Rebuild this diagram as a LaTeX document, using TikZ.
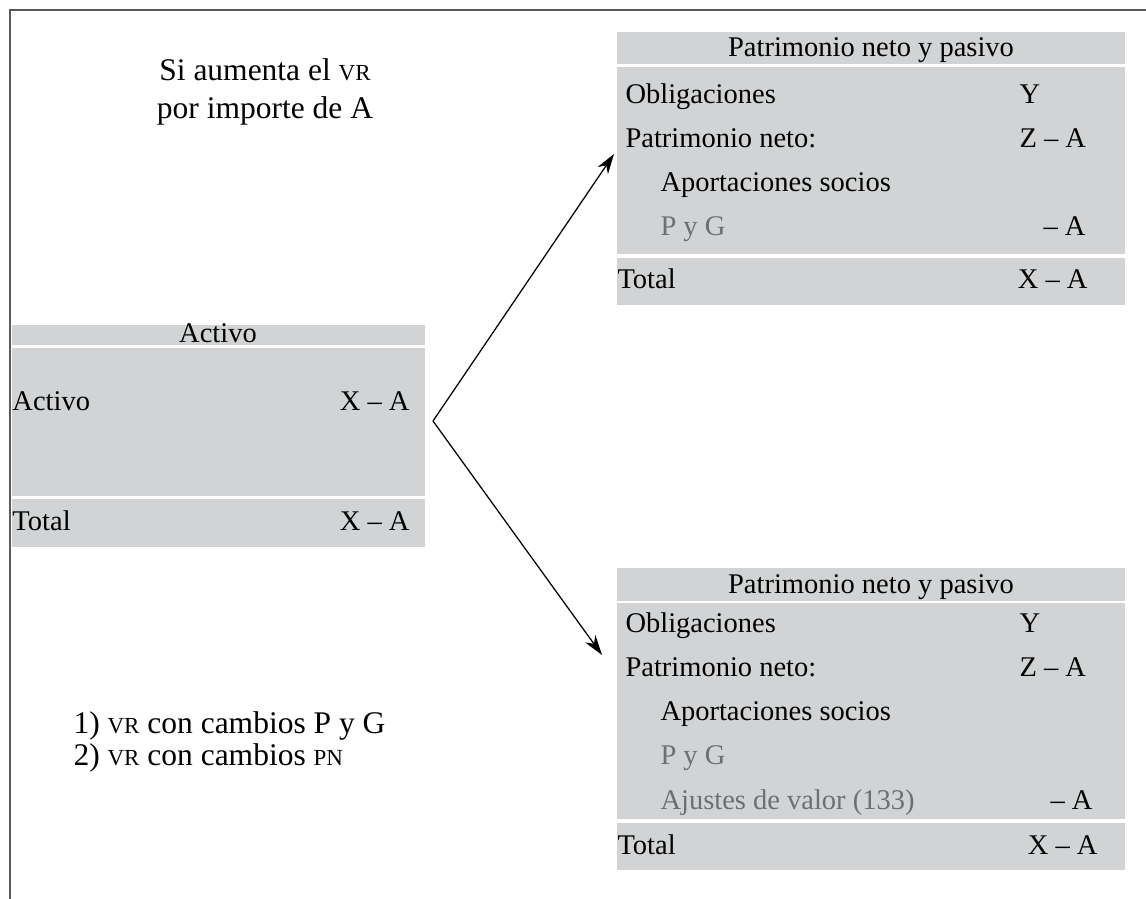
\documentclass[tikz,border=0pt]{standalone}
\usepackage{fontspec}
\setmainfont{Liberation Serif}
\usepackage{tikz}
\usetikzlibrary{arrows.meta}

\definecolor{boxgray}{RGB}{209,211,212}
\definecolor{softgray}{RGB}{110,111,113}
\definecolor{framegray}{RGB}{90,90,90}
\newcommand{\smallcap}[1]{{\fontsize{9.2}{10}\selectfont #1}}

\begin{document}
\begin{tikzpicture}[x=0.4pt, y=-0.4pt,
    cell/.style={inner sep=0pt, font=\fontsize{11.4}{13}\selectfont,
        text height=1.5ex, text depth=.25ex},
    note/.style={inner sep=0pt, font=\fontsize{12.6}{15}\selectfont},
    link/.style={line width=0.5pt, -{Stealth[length=8pt, width=5pt, inset=2.5pt]}}]

    % Fix the page size
    \useasboundingbox (0,0) rectangle (1146,899);

    % Draw the open frame
    \draw[framegray, line width=0.8pt] (10,899) -- (10,10) -- (1146,10);

    % Draw the grey bands of the three balance sheets
    \foreach \xa/\xb/\ya/\yb in {12/425/325/345, 12/425/348/496, 12/425/499/547,
        617/1125/32/64, 617/1125/67/254, 617/1125/258/305,
        617/1125/568/601, 617/1125/603/819, 617/1125/823/870}
        \fill[boxgray] (\xa,\ya) rectangle (\xb,\yb);

    % Activo side
    \node[cell] (act-head) at (218,335) {Activo};
    \node[cell, anchor=west] (act-row) at (12,403) {Activo};
    \node[cell, anchor=east] (act-val) at (410,403) {X -- A};
    \node[cell, anchor=west] (act-tot) at (12,523) {Total};
    \node[cell, anchor=east] (act-totval) at (410,523) {X -- A};

    % Rows shared by both liability sides
    \foreach \dy/\side in {0/up, 529/dn}
    {
        \node[cell, anchor=west] (\side-obl) at (625,96+\dy) {Obligaciones};
        \node[cell, anchor=west] (\side-y) at (1019,96+\dy) {Y};
        \node[cell, anchor=west] (\side-pn) at (625,140+\dy) {Patrimonio neto:};
        \node[cell, anchor=west] (\side-pnval) at (1019,140+\dy) {Z -- A};
        \node[cell, anchor=west] (\side-apo) at (660,184+\dy) {Aportaciones socios};
        \node[cell, anchor=west, text=softgray] (\side-pyg) at (660,228+\dy) {P y G};
    }

    % Upper side: VR through P y G
    \node[cell] (up-head) at (871,49) {Patrimonio neto y pasivo};
    \node[cell, anchor=east] (up-pygval) at (1086,228) {-- A};
    \node[cell, anchor=west] (up-tot) at (617,281) {Total};
    \node[cell, anchor=east] (up-totval) at (1088,281) {X -- A};

    % Lower side: VR through PN
    \node[cell] (dn-head) at (871,586) {Patrimonio neto y pasivo};
    \node[cell, anchor=west, text=softgray] (dn-aju) at (660,802) {Ajustes de valor (133)};
    \node[cell, anchor=east] (dn-ajuval) at (1093,802) {-- A};
    \node[cell, anchor=west] (dn-tot) at (617,847) {Total};
    \node[cell, anchor=east] (dn-totval) at (1098,847) {X -- A};

    % Notes
    \node[note, align=center] (rise) at (265,92) {Si aumenta el \smallcap{VR}\\por importe de A};
    \node[note, font=\fontsize{12.6}{12.8}\selectfont, align=left, anchor=west] (modes) at (73,742)
        {1) \smallcap{VR} con cambios P y G\\2) \smallcap{VR} con cambios \smallcap{PN}};

    % Finally the two outcomes
    \coordinate (fork) at (433,421);
    \coordinate (up-tip) at (614,154);
    \coordinate (dn-tip) at (602,655);
    \draw[link] (fork) -- (up-tip);
    \draw[link] (fork) -- (dn-tip);
\end{tikzpicture}
\end{document}
